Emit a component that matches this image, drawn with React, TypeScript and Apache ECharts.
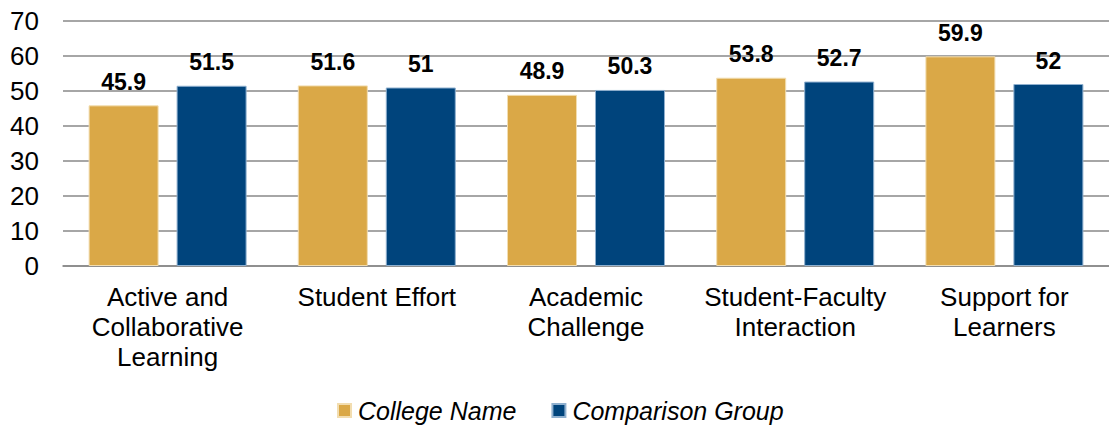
import React, { useEffect, useRef } from "react";
import * as echarts from "echarts";

const categories = [
  "Active and\nCollaborative\nLearning",
  "Student Effort",
  "Academic\nChallenge",
  "Student-Faculty\nInteraction",
  "Support for\nLearners",
];
const collegeValues = [45.9, 51.6, 48.9, 53.8, 59.9];
const comparisonValues = [51.5, 51, 50.3, 52.7, 52];
const seriesNames = ["College Name", "Comparison Group"];

const FONT = "Liberation Sans, Arial, sans-serif";

export default function App() {
  const ref = useRef<HTMLDivElement>(null);
  useEffect(() => {
    document.body.style.margin = "0";
    if (!ref.current) return;
    const chart = echarts.init(ref.current, undefined, { renderer: "svg" });
    const labelCfg = {
      show: true,
      position: "top" as const,
      distance: 12,
      fontFamily: FONT,
      fontSize: 23,
      fontWeight: "bold" as const,
      color: "#000",
    };
    chart.setOption({
      animation: false,
      backgroundColor: "#fff",
      grid: { left: 63, top: 21, width: 1052, bottom: 163, containLabel: false },
      legend: {
        data: seriesNames,
        left: 337,
        top: 398,
        padding: 0,
        itemWidth: 13,
        itemHeight: 13,
        itemGap: 35,
        icon: "rect",
        textStyle: {
          fontFamily: FONT,
          fontSize: 25,
          fontStyle: "italic",
          color: "#000",
          padding: [0, 0, 0, 2],
        },
      },
      xAxis: {
        type: "category",
        data: categories,
        axisTick: { show: false },
        axisLine: { show: true, lineStyle: { color: "#888", width: 1.6 } },
        axisLabel: {
          interval: 0,
          margin: 16,
          fontFamily: FONT,
          fontSize: 26,
          lineHeight: 30,
          color: "#000",
        },
      },
      yAxis: {
        type: "value",
        min: 0,
        max: 70,
        interval: 10,
        axisLine: { show: false },
        axisTick: { show: false },
        splitLine: { show: true, lineStyle: { color: "#888", width: 1.6 } },
        axisLabel: {
          margin: 24,
          fontFamily: FONT,
          fontSize: 26,
          color: "#000",
        },
      },
      series: [
        {
          name: seriesNames[0],
          type: "bar",
          data: collegeValues,
          barWidth: 70,
          barGap: "25.7%",
          itemStyle: { color: "#DAA847", borderColor: "#F2DDB0", borderWidth: 1 },
          label: labelCfg,
        },
        {
          name: seriesNames[1],
          type: "bar",
          data: comparisonValues,
          barWidth: 70,
          barGap: "25.7%",
          itemStyle: { color: "#00447C", borderColor: "#8FB0CF", borderWidth: 1 },
          label: labelCfg,
        },
      ],
    });
    return () => chart.dispose();
  }, []);
  return <div ref={ref} style={{ width: 1109, height: 429 }} />;
}
